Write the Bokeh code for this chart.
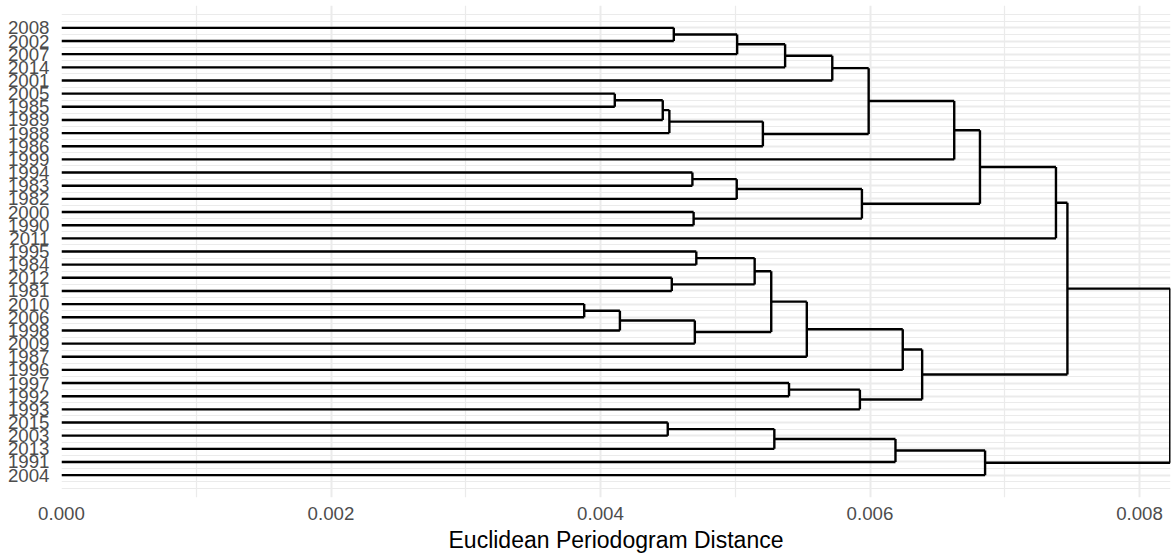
from bokeh.plotting import figure
from bokeh.models import ColumnDataSource, FixedTicker, PrintfTickFormatter, Range1d
from bokeh.embed import file_html
from bokeh.resources import INLINE

# ---- data ----
leaf_labels = ["2008", "2002", "2007", "2014", "2001", "2005", "1985", "1989", "1988",
               "1986", "1999", "1994", "1983", "1982", "2000", "1990", "2011", "1995",
               "1984", "2012", "1981", "2010", "2006", "1998", "2009", "1987", "1996",
               "1997", "1992", "1993", "2015", "2003", "2013", "1991", "2004"]

# merges: children are leaf labels or "m<k>" (index of an earlier merge)
merge_left = ["2008", "m0", "m1", "m2", "2005", "m4", "m5", "m6", "m3", "m8",
              "1994", "m10", "2000", "m11", "m9", "m14",
              "1995", "2012", "m16", "2010", "m19", "m20", "m18", "m22", "m23",
              "1997", "m25", "m24", "m15",
              "2015", "m29", "m30", "m31", "m28"]
merge_right = ["2002", "2007", "2014", "2001", "1985", "1989", "1988", "1986", "m7", "1999",
               "1983", "1982", "1990", "m12", "m13", "2011",
               "1984", "1981", "m17", "2006", "1998", "2009", "m21", "1987", "1996",
               "1992", "1993", "m26", "m27",
               "2003", "2013", "1991", "2004", "m32"]
merge_height = [0.004544, 0.005014, 0.005370, 0.005720, 0.004106, 0.004462, 0.004511,
                0.005205, 0.005990, 0.006625,
                0.004682, 0.005011, 0.004691, 0.005940, 0.006816, 0.007380,
                0.004711, 0.004529, 0.005144, 0.003879, 0.004144, 0.004700, 0.005267,
                0.005531, 0.006243,
                0.005399, 0.005925, 0.006387, 0.007465,
                0.004499, 0.005290, 0.006189, 0.006854, 0.008228]

x_ticks = [0.000, 0.002, 0.004, 0.006, 0.008]
x_minor = [0.001, 0.003, 0.005, 0.007]
x_title = "Euclidean Periodogram Distance"

# ---- build dendrogram segments ----
pos = {lab: (0.0, float(i + 1)) for i, lab in enumerate(leaf_labels)}
x0, y0, x1, y1 = [], [], [], []
for k, (a, b, h) in enumerate(zip(merge_left, merge_right, merge_height)):
    ha, ya = pos[a]
    hb, yb = pos[b]
    x0 += [h, ha, hb]
    y0 += [ya, ya, yb]
    x1 += [h, h, h]
    y1 += [yb, ya, yb]
    pos["m%d" % k] = (h, (ya + yb) / 2.0)

src = ColumnDataSource(dict(x0=x0, y0=y0, x1=x1, y1=y1))

n = len(leaf_labels)
root = merge_height[-1]

p = figure(width=1171, height=556, output_backend="svg", toolbar_location=None,
           x_range=Range1d(0, root + 0.000002), y_range=Range1d(n + 1.7, -0.7),
           min_border_left=61, min_border_right=1, min_border_top=5, min_border_bottom=59)
p.outline_line_color = None
p.background_fill_color = "white"
p.border_fill_color = "white"

p.segment("x0", "y0", "x1", "y1", source=src, line_color="black", line_width=2.4,
          line_cap="butt")

# axes
p.xaxis.ticker = FixedTicker(ticks=x_ticks, minor_ticks=x_minor)
p.xaxis.formatter = PrintfTickFormatter(format="%.3f")
p.xaxis.axis_label = x_title
p.xaxis.axis_label_text_font = "Liberation Sans"
p.xaxis.axis_label_text_font_size = "23px"
p.xaxis.axis_label_text_font_style = "normal"
p.xaxis.axis_label_text_color = "black"
p.xaxis.axis_label_standoff = 4
p.xaxis.major_label_standoff = 5

ticks_y = list(range(1, n + 1))
p.yaxis.ticker = FixedTicker(ticks=ticks_y)
p.yaxis.major_label_overrides = {i + 1: lab for i, lab in enumerate(leaf_labels)}
p.yaxis.major_label_standoff = 12

for ax in (p.xaxis[0], p.yaxis[0]):
    ax.axis_line_color = None
    ax.major_tick_line_color = None
    ax.minor_tick_line_color = None
    ax.major_tick_out = 0
    ax.major_tick_in = 0
    ax.major_label_text_font = "Liberation Sans"
    ax.major_label_text_font_size = "18.7px"
    ax.major_label_text_color = "#4D4D4D"

# grids
p.xgrid.ticker = FixedTicker(ticks=x_ticks, minor_ticks=x_minor)
p.xgrid.grid_line_color = "#EBEBEB"
p.xgrid.grid_line_width = 2
p.xgrid.minor_grid_line_color = "#EBEBEB"
p.xgrid.minor_grid_line_width = 1.2

y_minor = [0.0] + [i + 0.5 for i in range(0, n + 1)] + [float(n + 1)]
p.ygrid.ticker = FixedTicker(ticks=ticks_y, minor_ticks=y_minor)
p.ygrid.grid_line_color = "#EBEBEB"
p.ygrid.grid_line_width = 2
p.ygrid.minor_grid_line_color = "#EBEBEB"
p.ygrid.minor_grid_line_width = 1.2

open("out.html", "w").write(file_html(p, INLINE))
